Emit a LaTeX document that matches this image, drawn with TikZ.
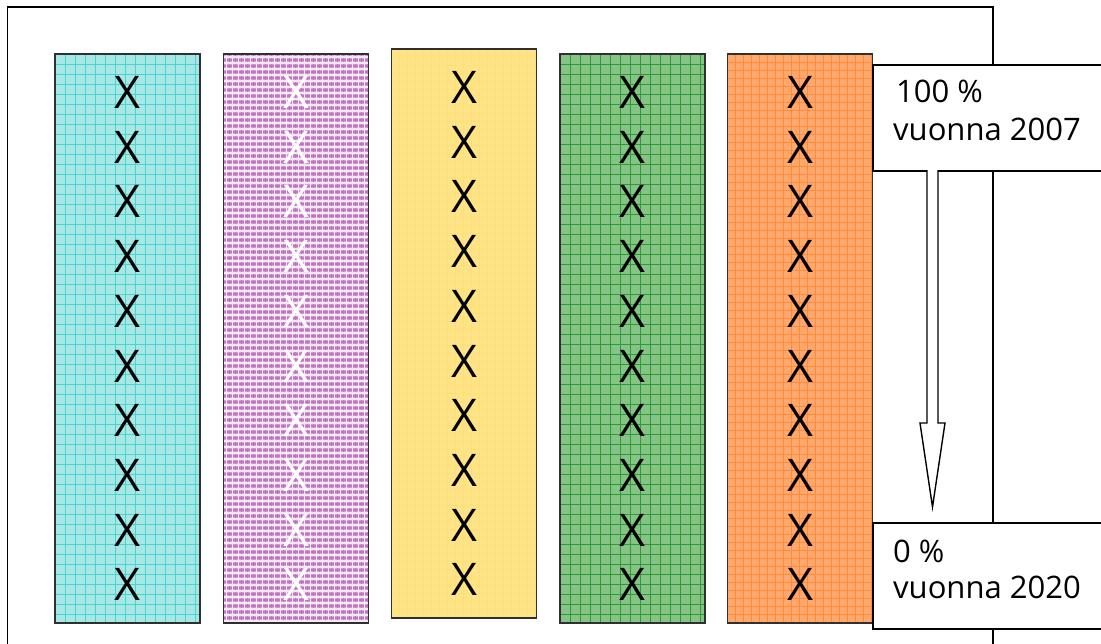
\documentclass[tikz,border=0pt]{standalone}
\usepackage{fontspec}
\setmainfont{Open Sans}
\usetikzlibrary{calc}
\definecolor{cyanbase}{HTML}{A6E8E6}
\definecolor{cyanline}{HTML}{4CD2CF}
\definecolor{purpbase}{HTML}{D6A3D6}
\definecolor{purpline}{HTML}{BE78BE}
\definecolor{yelbase}{HTML}{FFE487}
\definecolor{yelline}{HTML}{FFD23F}
\definecolor{grnbase}{HTML}{86C486}
\definecolor{grnline}{HTML}{2E9A3A}
\definecolor{orgbase}{HTML}{FFA86E}
\definecolor{orgline}{HTML}{FF8A3A}
\definecolor{bordergray}{HTML}{303030}
\tikzset{
  colbox/.style={draw=bordergray, line width=1.6pt, minimum width=145pt, minimum height=569pt, inner sep=0pt},
  gridfill/.style n args={3}{fill=#1, path picture={
      \foreach \k in {0,#3,...,600}{
        \draw[#2, line width=0.9pt] ($(path picture bounding box.north west)+(\k,0)$) -- ++(0,600);
        \draw[#2, line width=0.9pt] ($(path picture bounding box.north west)+(0,\k)$) -- ++(150,0);
      }}},
  plaidfill/.style={fill=purpbase, path picture={
      \foreach \k in {0,6,...,600}{
        \draw[purpline, line width=1.4pt] ($(path picture bounding box.north west)+(\k,0)$) -- ++(0,600);
        \draw[purpline, line width=1.4pt] ($(path picture bounding box.north west)+(0,\k)$) -- ++(150,0);
      }
      \foreach \k in {0,6,...,600}{
        \draw[white!75!purpbase, line width=1.1pt] ($(path picture bounding box.north west)+(\k+3,0)$) -- ++(0,600);
        \draw[white!75!purpbase, line width=1.1pt] ($(path picture bounding box.north west)+(0,\k+3)$) -- ++(150,0);
      }}},
  xmark/.style={inner sep=0pt, font=\fontsize{45}{50}\selectfont},
  labbox/.style={draw=black, fill=white, line width=1.6pt, minimum width=250pt, minimum height=106pt, inner sep=0pt, anchor=north west},
  labtext/.style={inner sep=0pt, anchor=base west, font=\fontsize{31}{36}\selectfont},
  framerect/.style={draw=black, line width=1.6pt}
}
\begin{document}
\begin{tikzpicture}[x=1pt,y=-1pt]
\useasboundingbox (0,0) rectangle (1101,643);
\clip (0,0) rectangle (1101,643);
\fill[white] (0,0) rectangle (1101,643);
% outer frame
\draw[framerect] (7.5,7) rectangle (993,680);
% columns
\node[colbox, gridfill={cyanbase}{cyanline}{10}] (c1) at (127.5,338.5) {};
\node[colbox, plaidfill] (c2) at (296,338.5) {};
\node[colbox, gridfill={yelbase}{yelline!70!white}{8}] (c3) at (464,333.5) {};
\node[colbox, gridfill={grnbase}{grnline}{10}] (c4) at (632.5,338.5) {};
\node[colbox, gridfill={orgbase}{orgline}{8}] (c5) at (800,338.5) {};
% X marks
\foreach \i in {0,...,9}{
  \node[xmark] (xa\i) at (127.5,{92.5+54.7*\i}) {X};
  \node[xmark, text=white] (xb\i) at (296,{92.5+54.7*\i}) {X};
  \node[xmark] (xc\i) at (464,{87.5+54.7*\i}) {X};
  \node[xmark] (xd\i) at (632,{92.5+54.7*\i}) {X};
  \node[xmark] (xe\i) at (800,{92.5+54.7*\i}) {X};
}
% label boxes
\node[labbox] (b1) at (872,64) {};
\node[labbox] (b2) at (872,522) {};
\node[labtext] (t1a) at (896,102) {100 \%};
\node[labtext] (t1b) at (893,140) {vuonna 2007};
\node[labtext] (t2a) at (893,562) {0 \%};
\node[labtext] (t2b) at (893,598) {vuonna 2020};
% block arrow from b1 towards b2
\coordinate (as) at (932.5,170);
\coordinate (at) at (932.5,507);
\draw[line width=1.4pt, fill=white]
  ($(as)+(-5.5,0)$) -- ($(as)+(-5.5,253)$) -- ($(as)+(-12.5,253)$) -- (at)
  -- ($(as)+(12.5,253)$) -- ($(as)+(5.5,253)$) -- ($(as)+(5.5,0)$);
\end{tikzpicture}
\end{document}
